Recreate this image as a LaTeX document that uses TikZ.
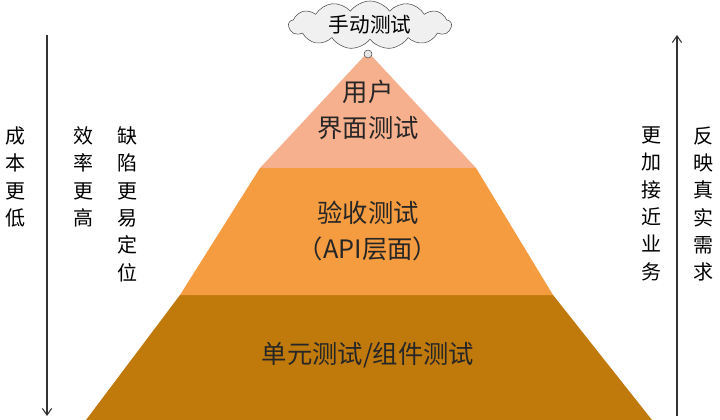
\documentclass[tikz,border=0pt]{standalone}
\usepackage{fontspec}
\newfontfamily\cjk{Noto Sans CJK SC}
\usetikzlibrary{shapes.symbols,arrows.meta}
\definecolor{topc}{HTML}{F7B08D}
\definecolor{midc}{HTML}{F59B40}
\definecolor{botc}{HTML}{C07A0C}
\tikzset{
  side/.style={font=\cjk\fontsize{15}{20.5}\selectfont, align=center, anchor=north},
  lbl/.style={font=\cjk\fontsize{19}{27}\selectfont, align=center, text=black!85},
  arr/.style={-{Straight Barb[length=5pt,width=7pt]}, line width=0.8pt, black!80}
}
\begin{document}
\begin{tikzpicture}[x=0.75pt,y=-0.75pt]
\useasboundingbox (0,0) rectangle (720,420);
\fill[white] (0,0) rectangle (720,420);
% bands
\fill[botc] (180,295) -- (553,295) -- (652,420) -- (86,420) -- cycle;
\fill[midc] (260,168) -- (476,168) -- (553,295) -- (180,295) -- cycle;
\fill[topc] (368,52) -- (476,168) -- (260,168) -- cycle;
% cloud
\node[cloud, cloud puffs=13, cloud puff arc=110, aspect=3.4, draw=black!70, fill=black!6, minimum width=122pt, minimum height=36pt, inner sep=0pt, font=\cjk\fontsize{15.5}{18}\selectfont] (cloud) at (370,25) {手动测试};
\node[circle, draw=black!70, fill=black!10, minimum size=6pt, inner sep=0pt] (dot) at (368,54) {};
% labels
\node[lbl] (l1) at (368,110) {用户\\界面测试};
\node[lbl] (l2) at (368,231) {验收测试\\（API层面）};
\node[lbl] (l3) at (368,355) {单元测试/组件测试};
% arrows
\coordinate (la) at (47,35); \coordinate (lb) at (47,416);
\coordinate (ra) at (677,416); \coordinate (rb) at (677,35);
\draw[arr] (la) -- (lb);
\draw[arr] (ra) -- (rb);
% side texts
\node[side] (s1) at (15,122) {成\\本\\更\\低};
\node[side] (s2) at (83,122) {效\\率\\更\\高};
\node[side] (s3) at (127,122) {缺\\陷\\更\\易\\定\\位};
\node[side] (s4) at (651,122) {更\\加\\接\\近\\业\\务};
\node[side] (s5) at (703,122) {反\\映\\真\\实\\需\\求};
\end{tikzpicture}
\end{document}
